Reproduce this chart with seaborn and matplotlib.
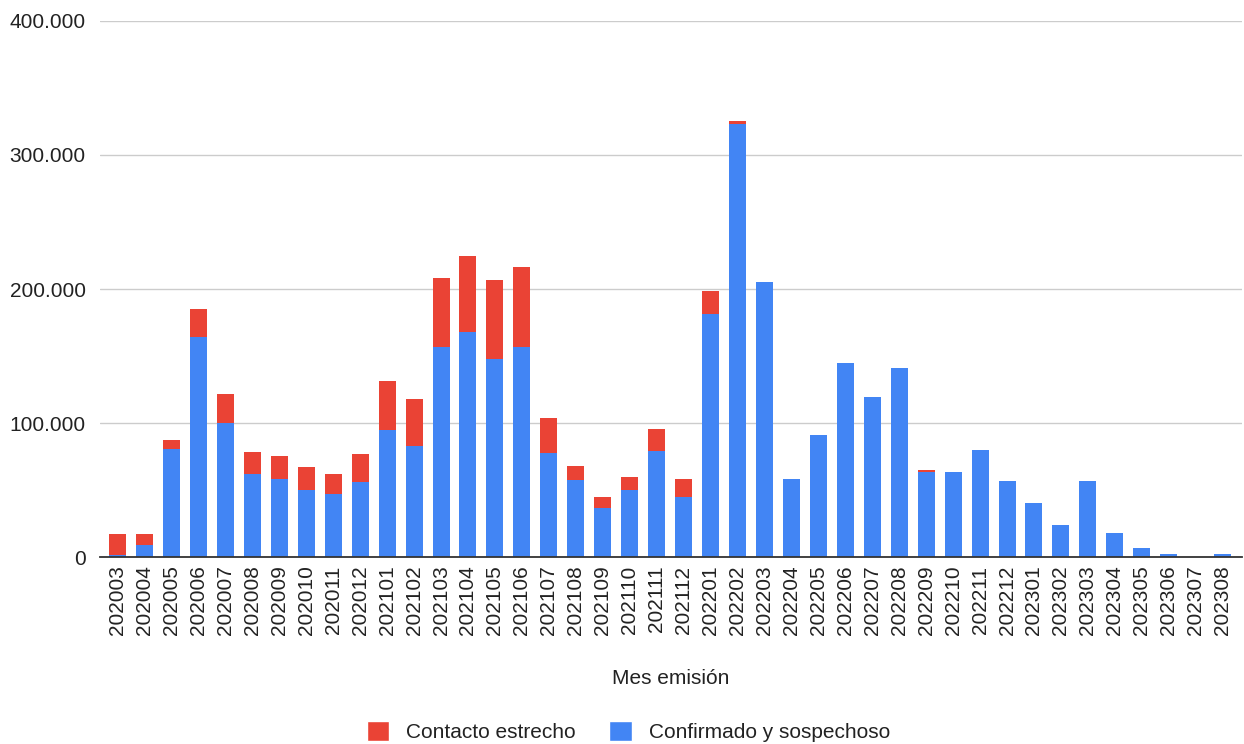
import matplotlib
matplotlib.use("Agg")
import matplotlib.pyplot as plt
from matplotlib.patches import Patch
from matplotlib.ticker import FuncFormatter
import seaborn as sns
import pandas as pd

meses = [
    "202003", "202004", "202005", "202006", "202007", "202008", "202009",
    "202010", "202011", "202012", "202101", "202102", "202103", "202104",
    "202105", "202106", "202107", "202108", "202109", "202110", "202111",
    "202112", "202201", "202202", "202203", "202204", "202205", "202206",
    "202207", "202208", "202209", "202210", "202211", "202212", "202301",
    "202302", "202303", "202304", "202305", "202306", "202307", "202308",
]

confirmado = [
    2000, 9000, 80400, 164000, 100200, 62400, 58500,
    50500, 47500, 56200, 95000, 82800, 157000, 167700,
    147800, 157000, 77400, 57500, 36800, 50500, 78900,
    45000, 181300, 322900, 205400, 58400, 91000, 144800,
    119400, 140800, 63900, 63900, 80100, 56700, 40500,
    24400, 56700, 17900, 7200, 2100, 0, 2100,
]

contacto = [
    15700, 8700, 7400, 21000, 21400, 16000, 17100,
    16900, 14700, 20900, 36100, 34900, 51000, 56900,
    58900, 59200, 26600, 10400, 8000, 9200, 17100,
    13200, 17400, 2500, 0, 0, 0, 0,
    0, 0, 1300, 0, 0, 0, 0,
    0, 0, 0, 0, 0, 0, 0,
]

rojo = "#EA4335"
azul = "#4285F4"

df = pd.DataFrame({
    "mes": meses,
    "confirmado": confirmado,
    "total": [a + b for a, b in zip(confirmado, contacto)],
})

sns.set_theme(style="white")
plt.rcParams["font.family"] = ["Liberation Sans", "DejaVu Sans"]

fig = plt.figure(figsize=(12.44, 7.44), dpi=100)
ax = fig.add_axes([0.080, 0.251, 0.918, 0.721])

# red bars give the full stack height, blue bars are drawn over them
sns.barplot(data=df, x="mes", y="total", color=rojo, saturation=1,
            width=0.63, linewidth=0, ax=ax, zorder=2)
sns.barplot(data=df, x="mes", y="confirmado", color=azul, saturation=1,
            width=0.63, linewidth=0, ax=ax, zorder=3)

ax.set_ylim(0, 400000)
ax.set_xlim(-0.67, 41.7)
ax.set_yticks([0, 100000, 200000, 300000, 400000])
ax.yaxis.set_major_formatter(
    FuncFormatter(lambda v, _: f"{int(v):,}".replace(",", "."))
)
ax.grid(axis="y", color="#cccccc", linewidth=1, zorder=0)
ax.set_axisbelow(True)

for s in ["top", "right", "left"]:
    ax.spines[s].set_visible(False)
ax.spines["bottom"].set_color("#333333")
ax.spines["bottom"].set_linewidth(1.3)
ax.spines["bottom"].set_zorder(5)

ax.tick_params(axis="x", labelrotation=90, labelsize=15, colors="#222222",
               length=0, pad=6)
ax.tick_params(axis="y", labelsize=15, colors="#222222", length=0, pad=10)

ax.set_ylabel("")
ax.set_xlabel("Mes emisión", fontsize=15, color="#222222", labelpad=24)

handles = [
    Patch(facecolor=rojo, label="Contacto estrecho"),
    Patch(facecolor=azul, label="Confirmado y sospechoso"),
]
fig.legend(handles=handles, loc="center", bbox_to_anchor=(0.505, 0.017),
           ncol=2, frameon=False, fontsize=15, handlelength=1.1,
           handleheight=1.1, handletextpad=0.8, columnspacing=1.6,
           labelcolor="#222222")

fig.savefig("out.png", dpi=100)
